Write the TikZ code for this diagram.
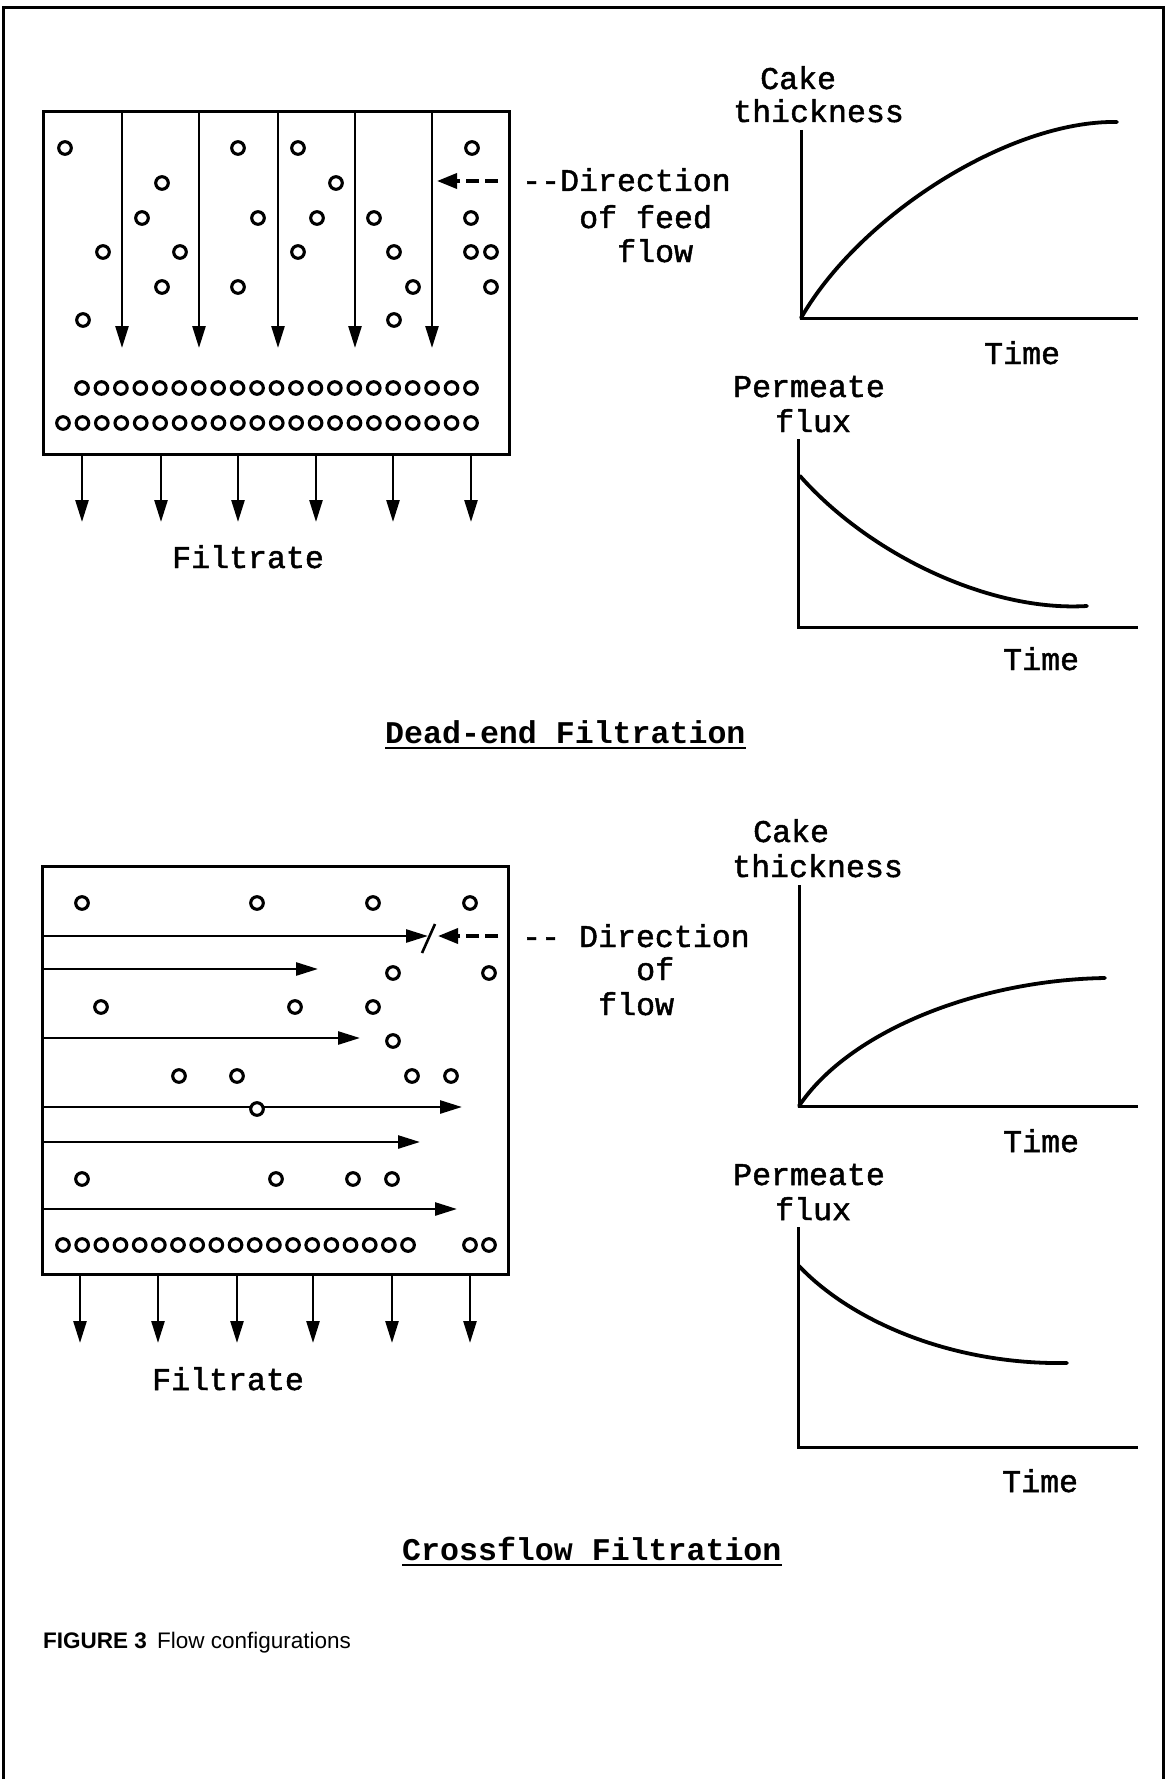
\documentclass[tikz,border=0pt]{standalone}
\usepackage{fontspec}
\setmainfont{Liberation Serif}
\setsansfont{Liberation Sans}
\setmonofont{Liberation Mono}
\newfontfamily\scanmono[FakeBold=1.5]{Liberation Mono}
\usepackage{tikz}
\usetikzlibrary{arrows.meta, positioning}
\tikzstyle{flowarrow} = [line width=2.6pt, -{Triangle[length=22pt,width=13pt]}]
\tikzstyle{feedarrow} = [line width=3.6pt, dash pattern=on 13pt off 6pt, -{Triangle[length=20pt,width=15pt]}]
\tikzstyle{particle} = [line width=3.1pt, fill=white]
\tikzstyle{axisline} = [line width=3pt]
\tikzstyle{curveline} = [line width=3.8pt, line cap=round]
\tikzstyle{monotext} = [font=\scanmono\fontsize{31.6}{34}\selectfont, inner sep=0pt, anchor=base west]
\tikzstyle{titletext} = [font=\ttfamily\bfseries\fontsize{31.6}{34}\selectfont, inner sep=0pt, anchor=base west]

\begin{document}
\begin{tikzpicture}[x=1pt, y=-1pt]
  \useasboundingbox (0,0) rectangle (1166,1779);

  % Frame
  \draw[line width=3pt] (3,1779) -- (3,8) -- (1163,8) -- (1163,1779);

  % Dead-end filter
  \draw[line width=3pt] (43,112) rectangle (509,454);
  \foreach \x in {122,199,278,355,432}
    \draw[flowarrow] (\x,113) -- (\x,348);
  \foreach \x/\y in {65/148,238/148,298/148,472/148,162/183,336/183,142/218,258/218,
                     317/218,374/218,471/218,103/252,180/252,298/252,394/252,471/252,
                     491/252,162/287,238/287,413/287,491/287,83/320,394/320}
    \draw[particle] (\x,\y) circle (6.3pt);
  \foreach \i in {0,...,20}
    \draw[particle] (82+19.45*\i,388) circle (6.3pt);
  \foreach \i in {0,...,21}
    \draw[particle] (63+19.43*\i,423) circle (6.3pt);
  \foreach \x in {82,161,238,316,393,471}
    \draw[flowarrow] (\x,455) -- (\x,522);
  \draw[feedarrow] (498,181) -- (437,181);

  % Dead-end labels
  \node[monotext] (defeed) at (522,191) {{-}{-}Direction};
  \node[monotext] (defeedof) at (579,228) {of feed};
  \node[monotext] (defeedflow) at (617,262) {flow};
  \node[monotext] (defiltrate) at (172,568) {Filtrate};

  % Dead-end cake thickness
  \draw[axisline] (801,130) -- (801,318) -- (1138,318);
  \draw[curveline] (801,318) .. controls (860,215) and (1010,120) .. (1117,122);
  \node[monotext] (decake) at (760,89) {Cake};
  \node[monotext] (dethick) at (733,122) {thickness};
  \node[monotext] (detime) at (984,364) {Time};

  % Dead-end permeate flux
  \draw[axisline] (798,439) -- (798,627) -- (1138,627);
  \draw[curveline] (800,476) .. controls (870,555) and (990,612) .. (1087,606);
  \node[monotext] (deperm) at (733,397) {Permeate};
  \node[monotext] (deflux) at (775,432) {flux};
  \node[monotext] (detimeflux) at (1003,670) {Time};

  \node[titletext] (detitle) at (385,743) {Dead-end Filtration};
  \draw[line width=2.6pt] ([yshift=-5pt]detitle.base west) -- ([yshift=-5pt]detitle.base east);

  % Crossflow filter
  \draw[line width=3pt] (42,866) rectangle (508,1274);
  \foreach \y/\t in {936/428,969/318,1038/360,1107/462,1142/420,1209/457}
    \draw[flowarrow] (43,\y) -- (\t,\y);
  \foreach \x/\y in {82/903,257/903,373/903,470/903,393/973,489/973,101/1007,295/1007,
                     373/1007,393/1041,179/1076,237/1076,412/1076,451/1076,257/1109,
                     82/1179,276/1179,353/1179,392/1179}
    \draw[particle] (\x,\y) circle (6.3pt);
  \foreach \i in {0,...,18}
    \draw[particle] (63+19.17*\i,1245) circle (6.3pt);
  \foreach \x in {470,489}
    \draw[particle] (\x,1245) circle (6.3pt);
  \draw[line width=2.6pt] (422,953) -- (435,924);
  \draw[feedarrow] (498,936) -- (438,936);
  \foreach \x in {80,158,237,313,392,470}
    \draw[flowarrow] (\x,1275) -- (\x,1343);

  % Crossflow labels
  \node[monotext] (cfdir) at (522,947) {{-}{-} Direction};
  \node[monotext] (cfdirof) at (636,980) {of};
  \node[monotext] (cfdirflow) at (598,1015) {flow};
  \node[monotext] (cffiltrate) at (152,1390) {Filtrate};

  % Crossflow cake thickness
  \draw[axisline] (799,885) -- (799,1106) -- (1138,1106);
  \draw[curveline] (799,1106) .. controls (850,1030) and (980,980) .. (1105,978);
  \node[monotext] (cfcake) at (753,842) {Cake};
  \node[monotext] (cfthick) at (732,877) {thickness};
  \node[monotext] (cftime) at (1003,1152) {Time};

  % Crossflow permeate flux
  \draw[axisline] (798,1227) -- (798,1447) -- (1138,1447);
  \draw[curveline] (799,1266) .. controls (850,1320) and (950,1365) .. (1067,1363);
  \node[monotext] (cfperm) at (733,1185) {Permeate};
  \node[monotext] (cfflux) at (775,1220) {flux};
  \node[monotext] (cftimeflux) at (1002,1492) {Time};

  \node[titletext] (cftitle) at (402,1560) {Crossflow Filtration};
  \draw[line width=2.6pt] ([yshift=-5pt]cftitle.base west) -- ([yshift=-5pt]cftitle.base east);

  % Caption
  \node[font=\sffamily\fontsize{22.5}{26}\selectfont, inner sep=0pt, anchor=base west] (caption)
    at (43,1648) {\textbf{FIGURE 3}\hspace{0.45em}Flow configurations};
\end{tikzpicture}
\end{document}
